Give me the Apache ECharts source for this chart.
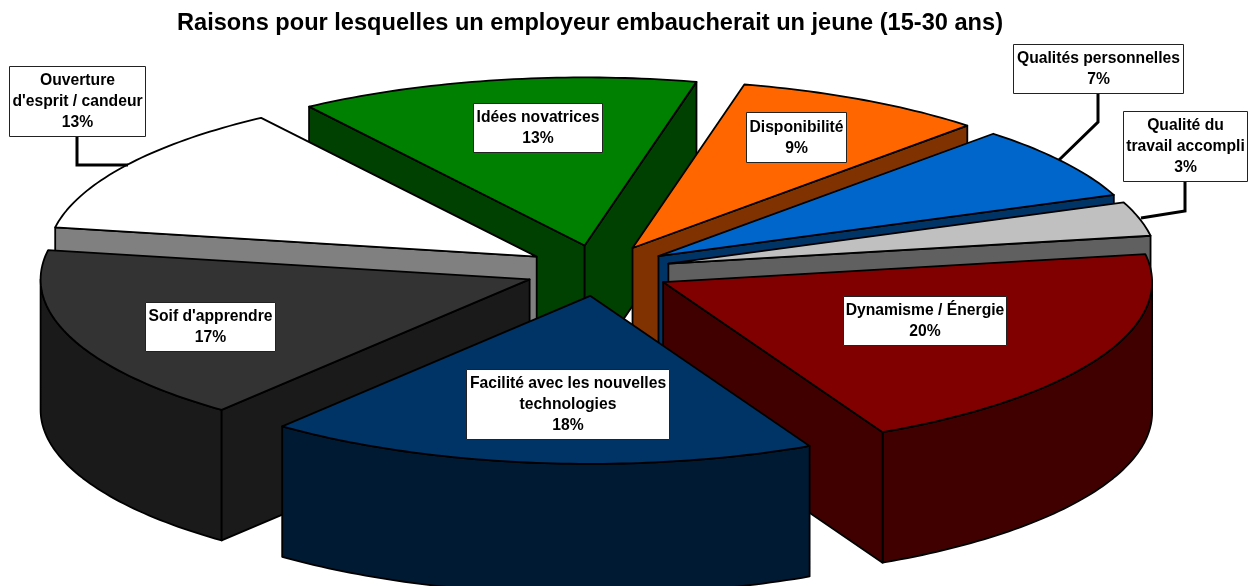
<!DOCTYPE html>
<html>
<head>
<meta charset="utf-8">
<script src="https://cdn.jsdelivr.net/npm/echarts@6/dist/echarts.min.js"></script>
<style>html,body{margin:0;padding:0;background:#fff}#c{width:1256px;height:586px}</style>
</head>
<body>
<div id="c"></div>
<script>
// Data
var titleText = 'Raisons pour lesquelles un employeur embaucherait un jeune (15-30 ans)';
var categories = ['Idées novatrices','Disponibilité','Qualités personnelles','Qualité du\ntravail accompli','Dynamisme / Énergie','Facilité avec les nouvelles\ntechnologies',"Soif d'apprendre","Ouverture\nd'esprit / candeur"];
var values = [13.2, 8.33, 7.06, 3.28, 20.25, 18.25, 16.95, 12.68];
var printedPercents = [13, 9, 7, 3, 20, 18, 17, 13];
var topColors = ['#008000','#FF6600','#0066CC','#C0C0C0','#800000','#003366','#333333','#FFFFFF'];
var wallColors = ['#004000','#803300','#003366','#606060','#400000','#001A33','#1A1A1A','#808080'];

// Projection of the exploded pie
var CX = 598, CY = 270.5, RX = 489, RY = 168, DEPTH = 130.5, EXPLODE_X = 73, EXPLODE_Y = 25.5, START = -34.3;
var FONT = 'bold 15.7px "Liberation Sans", Arial, sans-serif';

// Label layout: [left, top, right, bottom]
var labelBoxes = [[473,103,602,152],[746,112,846,162],[1013,44,1183,93],[1123,111,1247,181],[843,296,1006,345],[466,369,669,439],[145,302,275,351],[9,66,145,136]];
// Leader lines (only three labels sit outside their slice)
var leaderPaths = {2:[[1098,93],[1098,122],[1059,160]],3:[[1185,181],[1185,211],[1141,218]],7:[[77,136],[77,165],[128,165]]};

var total = values.reduce(function(a,b){return a+b;},0);
var rad = Math.PI/180;
function sliceAngles(i){
  var before = 0;
  for (var k=0;k<i;k++) before += values[k];
  var a0 = START + before/total*360;
  return [a0, a0 + values[i]/total*360];
}
function renderSlice(params, api){
  var i = api.value(0);
  var ang = sliceAngles(i), a0 = ang[0], a1 = ang[1], mid = (a0+a1)/2;
  var ax = CX + EXPLODE_X*Math.sin(mid*rad), ay = CY - EXPLODE_Y*Math.cos(mid*rad);
  function pt(a){ return [ax + RX*Math.sin(a*rad), ay - RY*Math.cos(a*rad)]; }
  function down(p){ return [p[0], p[1]+DEPTH]; }
  var base = Math.round((1 - Math.cos(mid*rad))*100)*10;
  var line = {stroke:'#000', lineWidth:1.8, lineJoin:'round'};
  var children = [];
  function poly(points, fill, z){
    children.push({type:'polygon', z2:base+z, shape:{points:points}, style:Object.assign({fill:fill}, line)});
  }
  // Outer rim: the part of the arc that faces the viewer
  var lo = Math.max(a0, 90), hi = Math.min(a1, 270);
  if (hi > lo){
    var up = [], dn = [];
    for (var a=lo; a<hi; a+=1){ up.push(pt(a)); dn.unshift(down(pt(a))); }
    up.push(pt(hi)); dn.unshift(down(pt(hi)));
    poly(up.concat(dn), wallColors[i], 0);
  }
  // Cut walls that face the viewer
  var apex = [ax, ay];
  if (Math.sin(a0*rad) < 0) poly([apex, pt(a0), down(pt(a0)), down(apex)], wallColors[i], 1);
  if (Math.sin(a1*rad) > 0) poly([apex, pt(a1), down(pt(a1)), down(apex)], wallColors[i], 1);
  // Top face
  var topPts = [apex];
  for (var b=a0; b<a1; b+=1) topPts.push(pt(b));
  topPts.push(pt(a1));
  poly(topPts, topColors[i], 2);
  return {type:'group', children:children};
}
function renderLabel(params, api){
  var i = api.value(0), b = labelBoxes[i], children = [];
  var z = 20000;
  if (leaderPaths[i]) children.push({type:'polyline', z2:z, shape:{points:leaderPaths[i]}, style:{stroke:'#000', lineWidth:3, fill:null, lineJoin:'miter'}});
  children.push({type:'rect', z2:z+1, shape:{x:b[0]+0.5,y:b[1]+0.5,width:b[2]-b[0],height:b[3]-b[1]}, style:{fill:'#fff',stroke:'#222',lineWidth:1}});
  children.push({type:'text', z2:z+2, style:{x:(b[0]+b[2])/2+0.5, y:(b[1]+b[3])/2+1, align:'center', verticalAlign:'middle', font:FONT, lineHeight:21, fill:'#000', text:categories[i]+'\n'+printedPercents[i]+'%'}});
  return {type:'group', children:children};
}
var idx = values.map(function(v,i){return [i, v];});
var chart = echarts.init(document.getElementById('c'), null, {renderer:'canvas'});
chart.setOption({
  animation:false,
  backgroundColor:'#fff',
  title:{text:titleText, left:585, top:6, textAlign:'center', textStyle:{fontFamily:'"Liberation Sans", Arial, sans-serif', fontWeight:'bold', fontSize:23.6, color:'#000'}},
  series:[
    {type:'custom', coordinateSystem:'none', silent:true, data:idx, renderItem:renderSlice},
    {type:'custom', coordinateSystem:'none', silent:true, data:idx, z:5, renderItem:renderLabel}
  ]
});
</script>
</body>
</html>
